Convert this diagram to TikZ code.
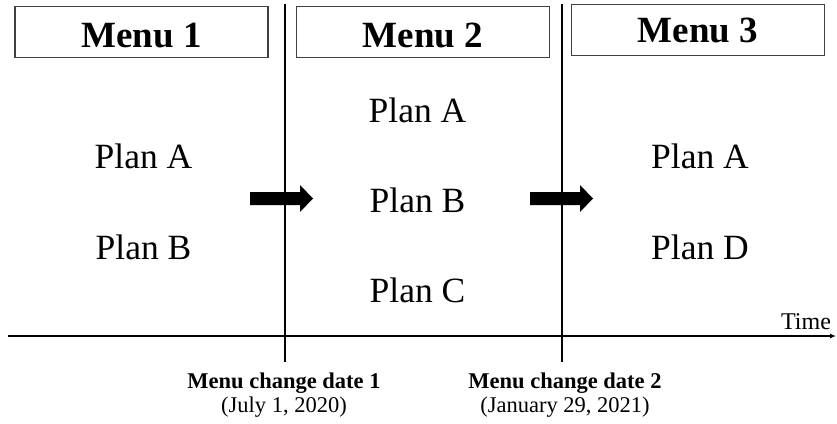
\documentclass[tikz,border=0pt]{standalone}
\usepackage{fontspec}
\setmainfont{Liberation Serif}
\usetikzlibrary{arrows.meta,positioning}
\tikzset{
  menubox/.style={draw=black!75, line width=1.2pt, minimum width=253pt, minimum height=51pt, inner sep=0pt, text height=30pt, text depth=0pt, font=\fontsize{37}{40}\selectfont\bfseries},
  plan/.style={inner sep=0pt, font=\fontsize{35.5}{40}\selectfont},
  datelabel/.style={align=center, inner sep=0pt, font=\fontsize{22.5}{24}\selectfont},
  divider/.style={line width=2pt},
}
\newcommand{\shiftarrow}[2]{% tail x, mid y
  \fill (#1,#2-6.5) -- ++(50,0) -- ++(0,-7) -- ++(13,13.5) -- ++(-13,13.5) -- ++(0,-7) -- ++(-50,0) -- cycle;}

\begin{document}
\begin{tikzpicture}[x=1pt, y=-1pt]
    \useasboundingbox (0,0) rectangle (837,423);
    % menus
    \node [menubox] (m1) at (141.5,32) {Menu 1};
    \node [menubox] (m2) at (423,32) {Menu 2};
    \node [menubox, text height=24pt] (m3) at (698,30) {Menu 3};
    % plans
    \node [plan] (a1) at (143.5,156) {Plan A};
    \node [plan, below=91pt of a1.center, anchor=center] (b1) {Plan B};
    \node [plan] (a2) at (417.5,110) {Plan A};
    \node [plan, below=90pt of a2.center, anchor=center] (b2) {Plan B};
    \node [plan, below=90pt of b2.center, anchor=center] (c2) {Plan C};
    \node [plan] (a3) at (700,156) {Plan A};
    \node [plan, below=91pt of a3.center, anchor=center] (d3) {Plan D};
    % time axis and change dates
    \coordinate (t0) at (8,336);
    \coordinate (t1) at (836,336);
    \coordinate (top1) at (285,4);
    \coordinate (bot1) at (285,362);
    \coordinate (top2) at (562,4);
    \coordinate (bot2) at (562,362);
    \draw [divider, -{Latex[length=6pt,width=5pt]}] (t0) -- (t1);
    \draw [divider] (top1) -- (bot1);
    \draw [divider] (top2) -- (bot2);
    \node [inner sep=0pt, font=\fontsize{24}{26}\selectfont] (time) at (806,322) {Time};
    \node [datelabel] (d1) at (284,395) {\textbf{Menu change date 1}\\(July 1, 2020)};
    \node [datelabel] (d2) at (565,395) {\textbf{Menu change date 2}\\(January 29, 2021)};
    % shift arrows
    \shiftarrow{250}{198.5}
    \shiftarrow{530}{198.5}
\end{tikzpicture}
\end{document}
